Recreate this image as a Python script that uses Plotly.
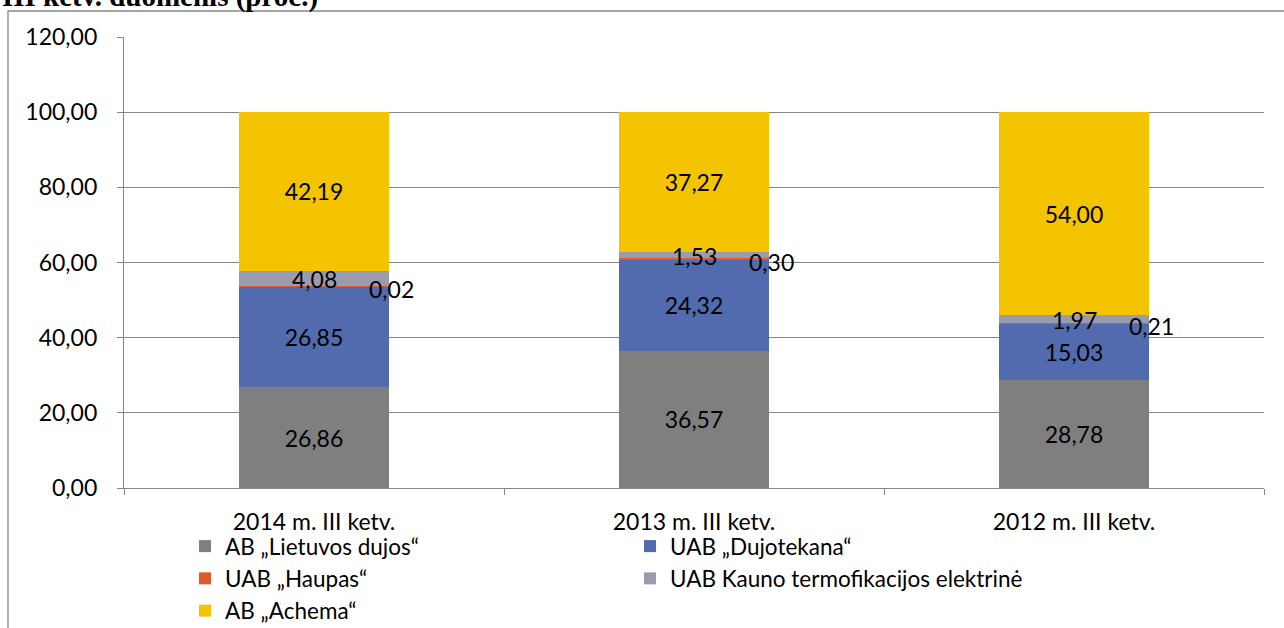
import plotly.graph_objects as go

categories = ["2014 m. III ketv.", "2013 m. III ketv.", "2012 m. III ketv."]
lietuvos_dujos = [26.86, 36.57, 28.78]
dujotekana = [26.85, 24.32, 15.03]
haupas = [0.02, 0.30, 0.21]
kauno = [4.08, 1.53, 1.97]
achema = [42.19, 37.27, 54.00]

series = [
    ("AB „Lietuvos dujos“", lietuvos_dujos, "#7F7F7F", True),
    ("UAB „Dujotekana“", dujotekana, "#516BAE", True),
    ("UAB „Haupas“", haupas, "#E05A27", False),
    ("UAB Kauno termofikacijos elektrinė", kauno, "#9B9BB0", False),
    ("AB „Achema“", achema, "#F5C400", True),
]

FONT = "Lato, 'Open Sans', Arial, sans-serif"
fig = go.Figure()
for name, vals, color, show_text in series:
    fig.add_trace(go.Bar(
        name=name, x=categories, y=vals,
        marker=dict(color=color, line=dict(width=0)),
        texttemplate="%{y:.2f}" if show_text else None,
        textposition="inside" if show_text else "none",
        insidetextanchor="middle",
        textangle=0,
        constraintext="none",
        insidetextfont=dict(color="black", size=23, family=FONT),
        hoverinfo="skip",
    ))

def fmt(v):
    return f"{v:.2f}".replace(".", ",")

annotations = []
for i, c in enumerate(categories):
    base = lietuvos_dujos[i] + dujotekana[i]
    # Haupas label beside the thin segment
    annotations.append(dict(
        x=c, y=base + haupas[i] / 2, xref="x", yref="y",
        text=fmt(haupas[i]), showarrow=False, xshift=77, yshift=-3,
        font=dict(size=23, color="black", family=FONT),
    ))
    # Kauno label centred on its segment (drawn above the bars)
    annotations.append(dict(
        x=c, y=base + haupas[i] + kauno[i] / 2, xref="x", yref="y",
        text=fmt(kauno[i]), showarrow=False, yshift=-1,
        font=dict(size=23, color="black", family=FONT),
    ))

annotations.append(dict(
    x=0, xref="paper", xshift=-124, xanchor="left",
    y=1, yref="paper", yshift=22, yanchor="bottom",
    text="<b>III ketv. duomenis (proc.)</b>", showarrow=False,
    font=dict(size=29, color="black", family="'Liberation Serif', 'Times New Roman', serif"),
))

fig.update_layout(
    barmode="stack",
    bargap=0.605,
    width=1284, height=628,
    margin=dict(l=124, r=20, t=37, b=140, autoexpand=False),
    plot_bgcolor="white", paper_bgcolor="white",
    separators=",.",
    font=dict(family=FONT, size=23, color="black"),
    showlegend=True,
    legend=dict(
        orientation="h", x=(185 - 124) / 1140, xanchor="left",
        y=-0.082, yanchor="top",
        entrywidth=400, entrywidthmode="pixels",
        font=dict(size=22.5, family=FONT, color="black"),
        traceorder="normal", bgcolor="rgba(0,0,0,0)",
        itemclick=False, itemdoubleclick=False,
    ),
    annotations=annotations,
    shapes=[dict(
        type="rect", xref="paper", yref="paper",
        x0=(8 - 124) / 1140, x1=(1300 - 124) / 1140,
        y0=(488 - 660) / 451, y1=(488 - 11) / 451,
        line=dict(color="#868686", width=1.3), layer="below",
    )],
)
fig.update_xaxes(
    showline=True, linecolor="#868686", linewidth=1.3,
    ticks="outside", ticklen=6, tickcolor="#868686", tickson="boundaries",
    tickfont=dict(size=23, family=FONT, color="black"),
    ticklabelstandoff=13,
    showgrid=False,
)
fig.update_yaxes(
    range=[0, 120], dtick=20, tickformat=".2f",
    showline=True, linecolor="#868686", linewidth=1.3,
    ticks="outside", ticklen=6, tickcolor="#868686",
    showgrid=True, gridcolor="#868686", gridwidth=1.3,
    tickfont=dict(size=23, family=FONT, color="black"),
    ticklabelstandoff=15,
    zeroline=False,
)

fig.write_html("out.html", config={"displayModeBar": False},
               post_script="document.body.style.margin='0px';")
